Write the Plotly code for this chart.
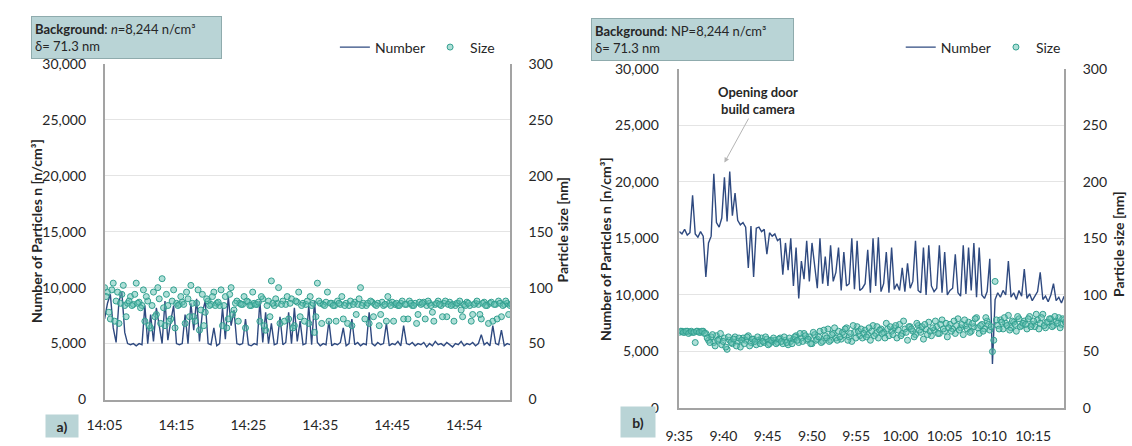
import plotly.graph_objects as go

# ---------------- data ----------------
# Panel a) : samples every ~0.4 min from 14:05
a_number = [7200, 8600, 9400, 6400, 5100, 8800, 9600, 6000, 5000, 4900,
            5000, 4800, 5000, 4900, 8400, 5000, 7600, 5200, 8200, 6400,
            5000, 8800, 5300, 7000, 8400, 5000, 4900, 5000, 7600, 5000,
            8600, 6200, 9000, 5200, 7800, 8800, 5000, 4900, 6400, 4800,
            5000, 8200, 5400, 9200, 6600, 8000, 5000, 4900, 5000, 7200,
            4900, 4800, 5000, 4900, 8800, 5100, 7800, 5000, 6800, 4900,
            5000, 7400, 4900, 5100, 7800, 5000, 8200, 5200, 7000, 4900,
            5000, 8400, 4900, 8800, 5100, 4800, 5000, 4900, 7000, 4800,
            5000, 4900, 5100, 6400, 4800, 5000, 7200, 4900, 5100, 4800,
            5000, 4900, 7800, 5000, 4800, 5100, 4900, 5000, 6800, 4800,
            5000, 4900, 5200, 4800, 6600, 5000, 4900, 5100, 4800, 5000,
            4900, 5100, 4700, 5000, 4800, 5200, 4900, 5000, 4800, 5100,
            4900, 4700, 5000, 4900, 5200, 4800, 5000, 4900, 5100, 4800,
            5000, 5800, 4900, 5100, 4800, 6600, 5000, 4900, 6200, 4800,
            5000, 4900]
# particle size, sampled on the same grid ...
a_size = [100, 96, 72, 104, 88, 68, 94, 84, 86, 92,
          85, 104, 87, 84, 70, 88, 64, 96, 76, 90,
          108, 66, 84, 72, 98, 86, 85, 87, 68, 90,
          102, 74, 86, 62, 94, 78, 88, 85, 96, 86,
          84, 66, 92, 72, 100, 80, 88, 86, 85, 64,
          87, 84, 86, 85, 70, 90, 62, 88, 106, 84,
          86, 68, 88, 85, 72, 90, 66, 87, 74, 86,
          85, 68, 84, 60, 104, 86, 85, 87, 70, 86,
          84, 88, 85, 72, 86, 84, 66, 87, 85, 100,
          86, 84, 68, 87, 85, 86, 76, 84, 70, 86,
          87, 85, 84, 86, 72, 85, 88, 84, 86, 76,
          85, 87, 84, 86, 78, 85, 88, 84, 86, 74,
          87, 85, 84, 86, 80, 85, 87, 84, 76, 86,
          85, 72, 87, 84, 86, 70, 85, 88, 74, 85,
          86, 84]
# ... and half-way between those samples
a_size_mid = [92, 78, 98, 70, 96, 86, 102, 74, 88, 84,
              94, 86, 82, 98, 92, 66, 84, 74, 100, 68,
              82, 94, 70, 88, 64, 84, 92, 85, 96, 74,
              86, 70, 98, 80, 66, 90, 84, 92, 84, 87,
              98, 84, 64, 94, 76, 86, 70, 85, 92, 88,
              84, 96, 85, 87, 92, 66, 84, 74, 86, 90,
              100, 85, 70, 92, 86, 64, 88, 96, 84, 70,
              88, 92, 86, 74, 88, 68, 84, 96, 86, 84,
              70, 86, 92, 84, 68, 88, 85, 76, 90, 84,
              72, 86, 88, 74, 84, 66, 87, 85, 92, 84,
              70, 86, 84, 88, 85, 72, 86, 84, 68, 87,
              86, 72, 88, 84, 70, 86, 85, 74, 88, 85,
              84, 70, 86, 88, 74, 84, 86, 70, 85, 88,
              76, 86, 84, 68, 87, 85, 72, 86, 84, 88,
              76, 85]
a_tick_labels = ["14:05", "14:15", "14:25", "14:35", "14:45", "14:54"]

# Panel b) : samples every ~0.3 min from 9:35
b_number = [15600, 15400, 15800, 15300, 15500, 18800, 15400, 15100, 15600, 15200,
            11600, 14600, 15200, 20700, 16400, 16000, 16800, 20400, 16500, 20900,
            17000, 19000, 16600, 16200, 16400, 16000, 12400, 16100, 11600, 15900,
            16000, 15600, 15800, 13600, 15500, 15200, 15400, 14800, 15000, 11800,
            14600, 12200, 15000, 10800, 14200, 9700, 13000, 11400, 14800, 11200,
            14600, 12400, 10600, 15000, 11000, 13400, 10800, 14400, 11200, 12000,
            14200, 10400, 13800, 10800, 11000, 15000, 10500, 14800, 10400, 10600,
            11000, 14000, 10200, 15000, 10800, 15100, 10300, 11000, 13800, 10200,
            14200, 10500, 11000, 10400, 12400, 10300, 12800, 10600, 11200, 14800,
            10400, 10200, 14200, 10000, 14400, 10800, 10300, 10600, 14400, 10200,
            13800, 10000, 10400, 10600, 13600, 10200, 9900, 14400, 10100, 14200,
            10400, 14600, 9800, 14200, 10000, 9700, 10300, 13200, 3900, 9600,
            10200, 9800, 10400, 10000, 13000, 9800, 10200, 9600, 10400, 9900,
            12300, 9700, 10100, 9500, 9900, 10300, 12000, 9600, 9900, 9400,
            10000, 11000, 9500, 9800, 9300, 9900]
b_size = [67, 68, 67, 68, 67, 67, 58, 68, 67, 68,
          66, 60, 63, 58, 64, 61, 56, 62, 52, 60,
          57, 63, 59, 54, 62, 60, 64, 58, 61, 56,
          60, 62, 58, 61, 57, 59, 60, 58, 62, 57,
          60, 56, 59, 61, 64, 58, 62, 66, 60, 63,
          57, 65, 61, 68, 59, 64, 70, 60, 66, 62,
          68, 61, 65, 71, 63, 59, 67, 72, 64, 62,
          69, 65, 60, 73, 66, 62, 70, 67, 75, 64,
          68, 71, 62, 74, 66, 70, 60, 72, 68, 65,
          73, 67, 61, 70, 76, 64, 69, 72, 66, 78,
          68, 63, 74, 70, 66, 79, 71, 65, 73, 76,
          68, 72, 80, 66, 74, 70, 77, 69, 50, 112,
          73, 78, 70, 75, 82, 71, 76, 68, 79, 73,
          77, 70, 81, 74, 72, 78, 75, 83, 71, 76,
          79, 73, 77, 80, 74, 78]
b_size_mid = [68, 67, 68, 66, 68, 67, 68, 67, 68, 66,
              62, 58, 65, 55, 60, 66, 59, 54, 63, 58,
              61, 55, 62, 60, 57, 63, 55, 61, 59, 63,
              57, 59, 63, 56, 60, 62, 57, 61, 59, 63,
              58, 62, 57, 63, 60, 66, 59, 64, 61, 57,
              67, 60, 63, 58, 69, 62, 59, 65, 71, 60,
              63, 67, 70, 60, 66, 73, 62, 68, 70, 66,
              63, 71, 68, 64, 72, 69, 66, 62, 70, 72,
              65, 73, 69, 64, 77, 67, 72, 70, 63, 75,
              69, 72, 74, 65, 68, 71, 77, 66, 74, 70,
              75, 71, 68, 77, 73, 69, 74, 78, 70, 67,
              75, 79, 71, 73, 68, 80, 74, 72, 60, 78,
              70, 76, 80, 73, 69, 77, 74, 81, 72, 75,
              74, 79, 72, 77, 83, 70, 80, 73, 76, 79,
              72, 81, 75, 71, 79, 76]
b_tick_labels = ["9:35", "9:40", "9:45", "9:50", "9:55", "10:00", "10:05", "10:10", "10:15"]

assert len(a_number) == len(a_size) == len(a_size_mid)
assert len(b_number) == len(b_size) == len(b_size_mid)

# ---------------- styling / layout ----------------
W, H = 1132, 446
FONT = "Lato"
TXT = "#262626"
NAVY = "#2f4a80"
TEAL_FILL = "rgba(96,192,176,0.5)"
TEAL_EDGE = "#32a090"
GRID = "#e4e4e4"
AXLINE = "#a3a3a3"
BOX_BG = "#b9d4d6"
BOX_BORDER = "#8fabad"


def fx(px):
    return px / W


def fy(py):
    return 1 - py / H


marker_style = dict(size=6, color=TEAL_FILL, line=dict(color=TEAL_EDGE, width=1))

fig = go.Figure()

fig.add_trace(go.Scatter(y=a_number, mode="lines", name="Number",
                         line=dict(color=NAVY, width=1.4),
                         xaxis="x", yaxis="y", legend="legend"))
fig.add_trace(go.Scatter(y=a_size, mode="markers", name="Size", marker=marker_style,
                         xaxis="x", yaxis="y2", legend="legend"))
fig.add_trace(go.Scatter(y=a_size_mid, x0=0.5, dx=1, mode="markers", name="Size",
                         marker=marker_style, showlegend=False,
                         xaxis="x", yaxis="y2", legend="legend"))
fig.add_trace(go.Scatter(y=b_number, mode="lines", name="Number",
                         line=dict(color=NAVY, width=1.4),
                         xaxis="x3", yaxis="y3", legend="legend2"))
fig.add_trace(go.Scatter(y=b_size, mode="markers", name="Size", marker=marker_style,
                         xaxis="x3", yaxis="y4", legend="legend2"))
fig.add_trace(go.Scatter(y=b_size_mid, x0=0.5, dx=1, mode="markers", name="Size",
                         marker=marker_style, showlegend=False,
                         xaxis="x3", yaxis="y4", legend="legend2"))

tickfont = dict(family=FONT, size=14, color=TXT)

a_tickvals = [0, 25, 50, 75, 100, 125]
b_tickvals = [0, 50 / 3, 100 / 3, 50, 200 / 3, 250 / 3, 100, 350 / 3, 400 / 3]

common_x = dict(showgrid=False, zeroline=False, showline=True, linecolor=AXLINE,
                linewidth=1.5, ticks="", tickfont=tickfont, fixedrange=True)
common_yl = dict(range=[0, 30000], dtick=5000, tickformat=",", showgrid=True,
                 gridcolor=GRID, gridwidth=1, zeroline=False, showline=True,
                 linecolor=AXLINE, linewidth=1.5, ticks="", tickfont=tickfont)
common_yr = dict(range=[0, 300], dtick=50, showgrid=False, zeroline=False,
                 showline=True, linecolor=AXLINE, linewidth=1.5, ticks="",
                 tickfont=tickfont, side="right")

fig.update_layout(
    width=W, height=H,
    margin=dict(l=0, r=0, t=0, b=0),
    paper_bgcolor="white", plot_bgcolor="white",
    font=dict(family=FONT, size=14, color=TXT),
    xaxis=dict(domain=[fx(88), fx(500)], anchor="y", range=[0, len(a_number) - 1],
               tickvals=a_tickvals, ticktext=a_tick_labels, ticklabelstandoff=12, **common_x),
    yaxis=dict(domain=[fy(406), fy(57)], anchor="x", ticklabelstandoff=14, **common_yl),
    yaxis2=dict(overlaying="y", anchor="x", ticklabelstandoff=14, **common_yr),
    xaxis3=dict(domain=[fx(672), fx(1063)], anchor="y3", range=[0, len(b_number) - 1],
                tickvals=b_tickvals, ticktext=b_tick_labels, ticklabelstandoff=14, **common_x),
    yaxis3=dict(domain=[fy(415), fy(62)], anchor="x3", ticklabelstandoff=16, **common_yl),
    yaxis4=dict(overlaying="y3", anchor="x3", ticklabelstandoff=14, **common_yr),
    legend=dict(orientation="h", x=fx(322), y=fy(40), xanchor="left", yanchor="middle",
                font=dict(family=FONT, size=14, color=TXT), bgcolor="rgba(0,0,0,0)",
                itemwidth=30, tracegroupgap=0),
    legend2=dict(orientation="h", x=fx(897), y=fy(40), xanchor="left", yanchor="middle",
                 font=dict(family=FONT, size=14, color=TXT), bgcolor="rgba(0,0,0,0)",
                 itemwidth=30, tracegroupgap=0),
    showlegend=True,
)

annotations = []

# background info boxes
annotations.append(dict(
    text="<b>Background</b>: <i>n</i>=8,244 n/cm³<br>δ= 71.3 nm",
    xref="paper", yref="paper", x=fx(13), y=fy(7), xanchor="left", yanchor="top",
    showarrow=False, align="left", bgcolor=BOX_BG, bordercolor=BOX_BORDER,
    borderwidth=1, borderpad=3, width=183, height=35,
    font=dict(family=FONT, size=13, color=TXT)))
annotations.append(dict(
    text="<b>Background</b>: NP=8,244 n/cm³<br>δ= 71.3 nm",
    xref="paper", yref="paper", x=fx(582), y=fy(9), xanchor="left", yanchor="top",
    showarrow=False, align="left", bgcolor=BOX_BG, bordercolor=BOX_BORDER,
    borderwidth=1, borderpad=3, width=195, height=35,
    font=dict(family=FONT, size=13, color=TXT)))

# panel letters
annotations.append(dict(
    text="<b>a)</b>", xref="paper", yref="paper", x=fx(27), y=0, xanchor="left",
    yanchor="bottom", showarrow=False, bgcolor=BOX_BG, borderpad=2, width=28, height=18,
    align="center", font=dict(family=FONT, size=14, color=TXT)))
annotations.append(dict(
    text="<b>b)</b>", xref="paper", yref="paper", x=fx(612), y=0, xanchor="left",
    yanchor="bottom", showarrow=False, bgcolor=BOX_BG, borderpad=2, width=30, height=26,
    align="center", font=dict(family=FONT, size=14, color=TXT)))

# axis titles
for text, x, y in [("Number of Particles n [n/cm³]", 18, 231),
                   ("Particle size [nm]", 553, 230),
                   ("Number of Particles n [n/cm³]", 597, 250),
                   ("Particle size [nm]", 1118, 245)]:
    annotations.append(dict(
        text=f"<b>{text}</b>", xref="paper", yref="paper", x=fx(x), y=fy(y),
        xanchor="center", yanchor="middle", textangle=-90, showarrow=False,
        font=dict(family=FONT, size=14, color=TXT)))

# event annotation in panel b
annotations.append(dict(
    text="<b>Opening door<br>build camera</b>", xref="x3", yref="y3",
    x=5.1 / 0.3, y=21700, ax=34, ay=-62, showarrow=True, arrowhead=2,
    arrowsize=1, arrowwidth=1, arrowcolor="#b5b5b5", align="center",
    font=dict(family=FONT, size=13, color=TXT)))

fig.update_layout(annotations=annotations)

fig.write_html("out.html")
